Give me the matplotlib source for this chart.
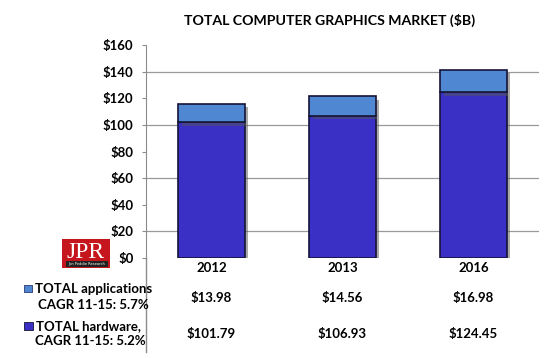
import matplotlib.pyplot as plt
from matplotlib.patches import Rectangle
from matplotlib.lines import Line2D
import matplotlib.patheffects as pe
import matplotlib.transforms as mtrans

years = ['2012', '2013', '2016']
hardware = [101.79, 106.93, 124.45]
applications = [13.98, 14.56, 16.98]
hw_lines = ['TOTAL hardware,', 'CAGR 11-15: 5.2%']
app_lines = ['TOTAL applications', 'CAGR 11-15: 5.7%']
yticks = [0, 20, 40, 60, 80, 100, 120, 140, 160]
grid_vals = [20, 60, 100, 140]

hw_color = '#3a30c6'
app_color = '#4f87d2'
edge = '#141436'
font = 'Lato'

W, H = 550, 358
fig = plt.figure(figsize=(5.5, 3.58), dpi=100)
fig.patch.set_facecolor('white')

def fx(px):
    return px / W

def fy(py):
    return 1 - py / H

ax = fig.add_axes([fx(146), fy(258), fx(539) - fx(146), fy(45) - fy(258)])
x = list(range(len(years)))
shadow = [pe.SimplePatchShadow(offset=(2.5, -2.5), shadow_rgbFace='#555555', alpha=0.5), pe.Normal()]
b1 = ax.bar(x, hardware, width=0.51, color=hw_color, edgecolor=edge, linewidth=1.2, zorder=3)
b2 = ax.bar(x, applications, bottom=hardware, width=0.51, color=app_color, edgecolor=edge,
            linewidth=1.2, zorder=3)
for b in list(b1) + list(b2):
    b.set_path_effects(shadow)

ax.set_xlim(-0.5, 2.5)
ax.set_ylim(0, 160)
ax.set_yticks(yticks)
ax.set_yticklabels(['${}'.format(v) for v in yticks], fontfamily=font, fontweight='bold',
                   fontsize=9.5)
for v in grid_vals:
    ax.axhline(v, color='#9a9a9a', linewidth=0.9, zorder=1)
ax.set_xticks(x)
ax.set_xticklabels(years, fontfamily=font, fontweight='bold', fontsize=9.5)
ax.tick_params(axis='x', length=0, pad=3)
ax.tick_params(axis='y', length=3, color='#8c8c8c', pad=6)
for s in ['top', 'right', 'bottom']:
    ax.spines[s].set_visible(False)
ax.spines['left'].set_color('#8c8c8c')

# vertical rule continuing down through the table
fig.add_artist(Line2D([fx(146), fx(146)], [fy(258), fy(352)], color='#8c8c8c', linewidth=1.0))

# data table values
trans = mtrans.blended_transform_factory(ax.transData, fig.transFigure)
for i in x:
    ax.text(i, fy(298), '${:.2f}'.format(applications[i]), transform=trans, ha='center',
            va='center', fontfamily=font, fontweight='bold', fontsize=9.5)
    ax.text(i, fy(334), '${:.2f}'.format(hardware[i]), transform=trans, ha='center',
            va='center', fontfamily=font, fontweight='bold', fontsize=9.5)

# row labels with legend keys
lab = dict(ha='left', va='center', fontfamily=font, fontweight='bold', fontsize=9.5)
fig.text(fx(35), fy(289), app_lines[0], **lab)
fig.text(fx(38), fy(305), app_lines[1], **lab)
fig.text(fx(36), fy(326), hw_lines[0], **lab)
fig.text(fx(35), fy(341), hw_lines[1], **lab)
fig.add_artist(Rectangle((fx(24), fy(292)), fx(8), 7 / H, facecolor=app_color,
                         edgecolor='#2a3a70', linewidth=0.6, transform=fig.transFigure))
fig.add_artist(Rectangle((fx(24), fy(330)), fx(9), 8 / H, facecolor=hw_color,
                         edgecolor='#141436', linewidth=0.6, transform=fig.transFigure))

# JPR logo
fig.add_artist(Rectangle((fx(62), fy(268)), fx(48), 29 / H, facecolor='#c4161c',
                         edgecolor='none', transform=fig.transFigure))
fig.add_artist(Rectangle((fx(66), fy(267)), fx(42), 6 / H, facecolor='#222222',
                         edgecolor='none', transform=fig.transFigure))
fig.text(fx(86), fy(252), 'JPR', ha='center', va='center', color='white',
         fontfamily='Liberation Serif', fontsize=17)
fig.text(fx(87), fy(264), 'Jon Peddie Research', ha='center', va='center', color='white',
         fontfamily='DejaVu Sans', fontsize=2.6)

# title
fig.text(fx(330), fy(20), 'TOTAL COMPUTER GRAPHICS MARKET ($B)', ha='center', va='center',
         fontfamily=font, fontweight='bold', fontsize=10.2)

fig.savefig('out.png', dpi=100)
